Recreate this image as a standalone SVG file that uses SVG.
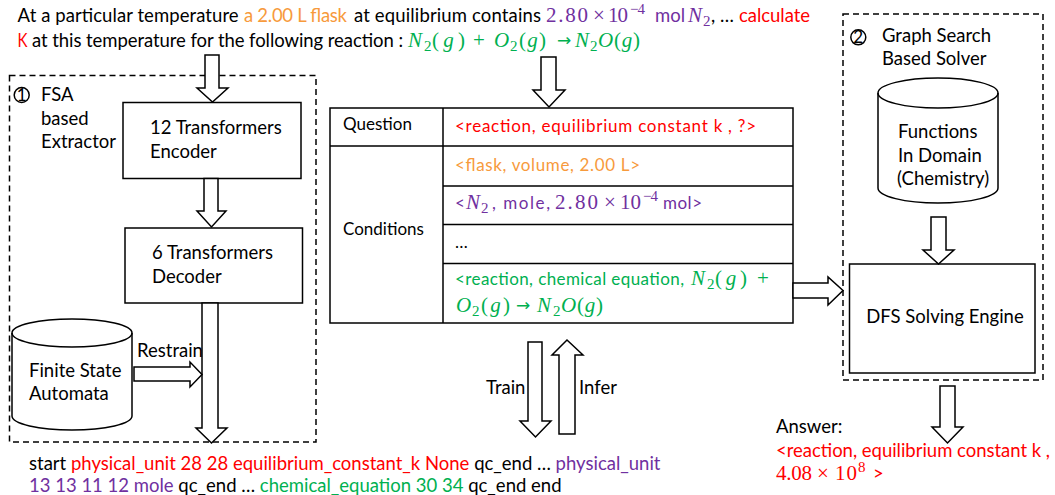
<svg xmlns="http://www.w3.org/2000/svg" width="1055" height="495" viewBox="0 0 1055 495">
<style>
.t{font-family:Lato,"Open Sans",sans-serif;font-size:18.5px;fill:#000}
.s{font-family:Lato,"Open Sans",sans-serif;font-size:17px;fill:#000}
.m{font-family:"Liberation Serif",serif;font-size:21px}
.sm{font-family:"Liberation Serif",serif;font-size:15px}
.ar{font-family:"DejaVu Sans",sans-serif;font-size:17px}
.i{font-style:italic}
.red{fill:#FF0000}.org{fill:#F79A3C}.pur{fill:#7030A0}.grn{fill:#00B050}
.box{fill:#fff;stroke:#000;stroke-width:1.5}
.dash{fill:none;stroke:#000;stroke-width:1.5;stroke-dasharray:6 4}
.arr{fill:#fff;stroke:#000;stroke-width:1.5;stroke-linejoin:miter}
.ln{stroke:#000;stroke-width:1.5;fill:none}
</style>
<rect width="1055" height="495" fill="#fff"/>

<g id="question-text">
<text class="t" x="17.6" y="22" textLength="221" lengthAdjust="spacing">At a particular temperature</text>
<text class="t org" x="244" y="22" textLength="103" lengthAdjust="spacing">a 2.00 L flask</text>
<text class="t" x="354" y="22" textLength="187" lengthAdjust="spacing">at equilibrium contains</text>
<text class="m pur" x="546" y="22" textLength="42">2.80</text>
<text class="m pur" x="593" y="22">×</text>
<text class="m pur" x="608" y="22" textLength="20">10</text>
<text class="sm pur" x="630" y="14" textLength="15">−4</text>
<text class="t pur" x="655" y="22">mol</text>
<text class="m pur i" x="688" y="22">N</text>
<text class="sm pur" x="703" y="26">2</text>
<text class="t" x="711" y="22">, …</text>
<text class="t red" x="739" y="22" textLength="71" lengthAdjust="spacing">calculate</text>
<text class="t red" x="17.6" y="47" textLength="10" lengthAdjust="spacingAndGlyphs">K</text>
<text class="t" x="32" y="47" textLength="371" lengthAdjust="spacing">at this temperature for the following reaction :</text>
<text class="m grn i" x="408" y="47">N</text>
<text class="sm grn" x="424" y="51">2</text>
<text class="m grn" x="432" y="47" textLength="33">(<tspan class="i">g</tspan>)</text>
<text class="m grn" x="473" y="47">+</text>
<text class="m grn i" x="494" y="47">O</text>
<text class="sm grn" x="510" y="51">2</text>
<text class="m grn" x="519" y="47" textLength="27">(<tspan class="i">g</tspan>)</text>
<text class="ar grn" x="557" y="46">→</text>
<text class="m grn i" x="575" y="47">N</text>
<text class="sm grn" x="590" y="51">2</text>
<text class="m grn i" x="598" y="47">O</text>
<text class="m grn" x="614" y="47" textLength="26">(<tspan class="i">g</tspan>)</text>
</g>

<g id="fsa-extractor">
<rect class="dash" x="9.5" y="75.5" width="306.5" height="366.5"/>
<circle cx="21.7" cy="95" r="7.5" class="ln"/>
<text class="s" x="21.7" y="100.5" text-anchor="middle" font-size="14">1</text>
<text class="t"><tspan x="41" y="101">FSA</tspan><tspan x="41" y="125">based</tspan><tspan x="41" y="148">Extractor</tspan></text>
</g>

<g id="encoder">
<rect class="box" x="123" y="102.5" width="178" height="76"/>
<text class="t"><tspan x="150" y="134">12 Transformers</tspan><tspan x="150" y="158">Encoder</tspan></text>
</g>

<g id="decoder">
<rect class="box" x="125" y="228" width="177.5" height="75"/>
<text class="t"><tspan x="152" y="259">6 Transformers</tspan><tspan x="152" y="283">Decoder</tspan></text>
</g>

<g id="fsa">
<path class="box" d="M12,333 A60,14 0 0,1 132,333 V416 A60,14 0 0,1 12,416 Z"/>
<path class="ln" d="M12,333 A60,14 0 0,0 132,333"/>
<text class="t"><tspan x="29" y="377">Finite State</tspan><tspan x="29" y="400">Automata</tspan></text>
</g>

<g id="table">
<rect class="box" x="330" y="108" width="463" height="215"/>
<path class="ln" d="M443,108V323M330,146H793M443,186H793M443,224.5H793M443,263.5H793"/>
<text class="s" x="343" y="130">Question</text>
<text class="s" x="343" y="235">Conditions</text>
<text class="s red" x="455" y="132" textLength="301" lengthAdjust="spacing">&lt;reaction, equilibrium constant k , ?&gt;</text>
<text class="s org" x="455" y="171" textLength="185" lengthAdjust="spacing">&lt;flask, volume, 2.00 L&gt;</text>
<text class="s pur" x="455" y="209">&lt;</text>
<text class="m pur i" x="466" y="209">N</text>
<text class="sm pur" x="481" y="213">2</text>
<text class="s pur" x="492" y="209" textLength="58" lengthAdjust="spacing">, mole,</text>
<text class="m pur" x="555" y="209" textLength="43">2.80</text>
<text class="m pur" x="604" y="209">×</text>
<text class="m pur" x="620" y="209" textLength="21">10</text>
<text class="sm pur" x="643" y="201" textLength="15">−4</text>
<text class="s pur" x="663" y="209" textLength="39" lengthAdjust="spacing">mol&gt;</text>
<text class="s" x="455" y="248">…</text>
<text class="s grn" x="455" y="285" textLength="229" lengthAdjust="spacing">&lt;reaction, chemical equation,</text>
<text class="m grn i" x="691" y="285">N</text>
<text class="sm grn" x="707" y="289">2</text>
<text class="m grn" x="715" y="285" textLength="32">(<tspan class="i">g</tspan>)</text>
<text class="m grn" x="757" y="285">+</text>
<text class="m grn i" x="456" y="312">O</text>
<text class="sm grn" x="472" y="316">2</text>
<text class="m grn" x="481" y="312" textLength="29">(<tspan class="i">g</tspan>)</text>
<text class="ar grn" x="516" y="311">→</text>
<text class="m grn i" x="537" y="312">N</text>
<text class="sm grn" x="553" y="316">2</text>
<text class="m grn i" x="561" y="312">O</text>
<text class="m grn" x="577" y="312" textLength="26">(<tspan class="i">g</tspan>)</text>
</g>

<g id="graph-solver">
<rect class="dash" x="843" y="14" width="200" height="366"/>
<circle cx="858.3" cy="37.3" r="7.5" class="ln"/>
<text class="s" x="858.3" y="42.5" text-anchor="middle" font-size="14">2</text>
<text class="t"><tspan x="882" y="42">Graph Search</tspan><tspan x="882" y="65">Based Solver</tspan></text>
</g>

<g id="functions">
<path class="box" d="M878,93 A60,15 0 0,1 998,93 V188 A60,15 0 0,1 878,188 Z"/>
<path class="ln" d="M878,93 A60,15 0 0,0 998,93"/>
<text class="t"><tspan x="898" y="138">Functions</tspan><tspan x="898" y="162">In Domain</tspan><tspan x="897" y="185">(Chemistry)</tspan></text>
</g>

<g id="dfs">
<rect class="box" x="849.5" y="264" width="185.5" height="109"/>
<text class="t" x="945" y="323" text-anchor="middle">DFS Solving Engine</text>
</g>

<g id="answer">
<text class="t" x="776" y="433">Answer:</text>
<text class="t red" x="776" y="457" textLength="274" lengthAdjust="spacing">&lt;reaction, equilibrium constant k ,</text>
<text class="m red" x="776" y="480" textLength="36">4.08</text>
<text class="m red" x="817" y="480">×</text>
<text class="m red" x="835" y="480" textLength="22">10</text>
<text class="sm red" x="858" y="472">8</text>
<text class="t red" x="873" y="480">&gt;</text>
</g>

<g id="sequence">
<text class="t" y="470"><tspan x="29">start</tspan><tspan class="red"> physical_unit 28 28 equilibrium_constant_k None</tspan><tspan> qc_end …</tspan><tspan class="pur"> physical_unit</tspan></text>
<text class="t" y="492"><tspan x="29" class="pur">13 13 11 12 mole</tspan><tspan> qc_end …</tspan><tspan class="grn"> chemical_equation 30 34</tspan><tspan> qc_end end</tspan></text>
</g>

<g id="connectors">
<polygon class="arr" points="205,55 219,55 219,88 228,88 212.5,102 197,88 205,88"/>
<polygon class="arr" points="204,178.5 218,178.5 218,211 226,211 211.5,227 197,211 204,211"/>
<polygon class="arr" points="202,303 218,303 218,428 227,428 211.5,443 196,428 202,428"/>
<polygon class="arr" points="134,367 190,367 190,362 202,374.5 190,387 190,381 134,381"/>
<text class="t" x="137" y="357">Restrain</text>
<polygon class="arr" points="541,57 556,57 556,90 565,90 549,107 533,90 541,90"/>
<polygon class="arr" points="528,342 542,342 542,421 551,421 535.5,437 520,421 528,421"/>
<polygon class="arr" points="559,434 575,434 575,355 583,355 567,340 552,355 559,355"/>
<text class="t" x="486" y="394">Train</text>
<text class="t" x="579" y="394">Infer</text>
<polygon class="arr" points="793,283 828,283 828,277 843,290.5 828,305 828,298 793,298"/>
<polygon class="arr" points="931,217 946,217 946,250 954,250 938.5,264 923,250 931,250"/>
<polygon class="arr" points="940,386 955,386 955,427 963,427 947.5,443 932,427 940,427"/>
</g>
</svg>
